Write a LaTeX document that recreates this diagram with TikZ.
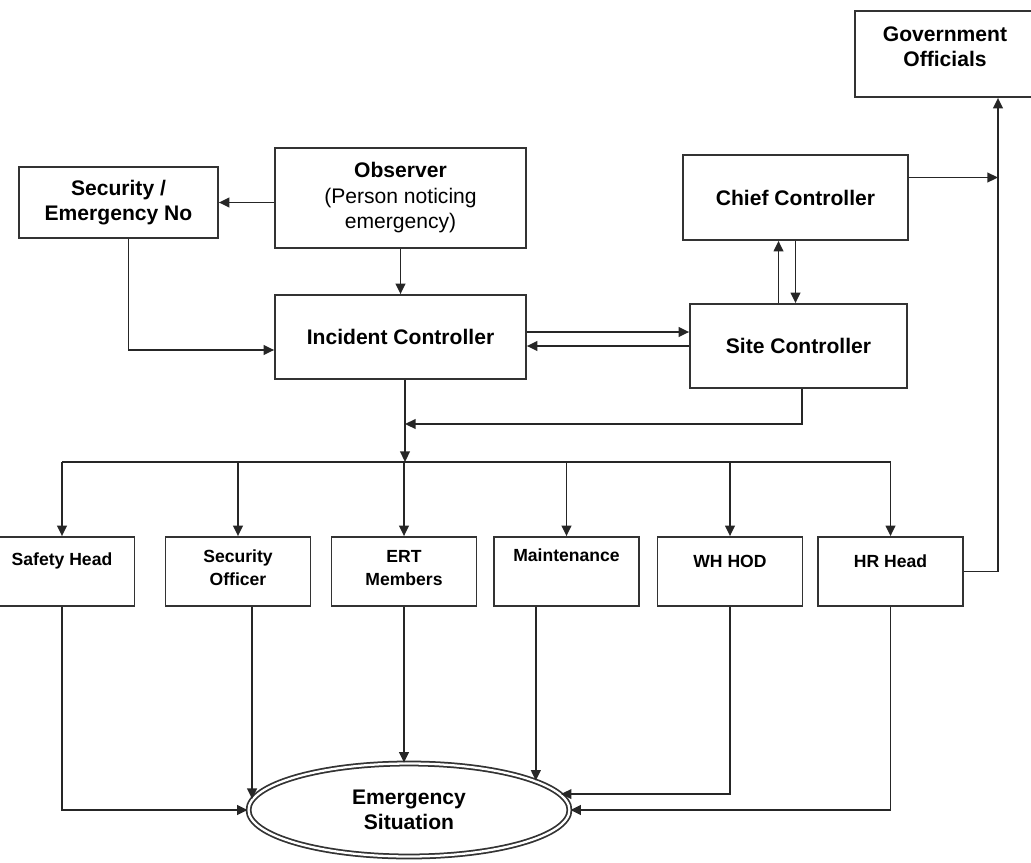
\documentclass[tikz,border=0pt]{standalone}
\usepackage{fontspec}
\setmainfont{Liberation Sans}
\usetikzlibrary{arrows.meta,shapes.geometric}

\tikzset{
  box/.style={draw=black!80, line width=1pt, fill=white, inner sep=2pt, align=center,
    font=\fontsize{12}{14.5}\selectfont\bfseries},
  member/.style={draw=black!80, line width=1pt, minimum width=2.9cm, minimum height=1.38cm},
  memtxt/.style={align=center, font=\fontsize{10}{13}\selectfont\bfseries},
  wire/.style={line width=1pt, black!85},
  arr/.style={wire, -{Triangle[length=6pt,width=5.5pt]}}
}

\begin{document}
\begin{tikzpicture}[x=0.02cm,y=-0.02cm]
  \useasboundingbox (0,0) rectangle (1031,862);

  % upper blocks
  \node[box, minimum width=3.98cm, minimum height=1.42cm] (sec) at (118.5,202.5) {Security /\\Emergency No};
  \node[box, minimum width=5.02cm, minimum height=2cm] (obs) at (400.5,198)
    {Observer\\\textmd{(Person noticing}\\\textmd{emergency)}};
  \node[box, minimum width=5.02cm, minimum height=1.68cm] (inc) at (400.5,337) {Incident Controller};
  \node[box, minimum width=4.5cm, minimum height=1.7cm] (chief) at (795.5,197.5) {Chief Controller};
  \node[box, minimum width=4.34cm, minimum height=1.68cm] (site) at (798.5,346) {Site Controller};
  \node[box, minimum width=3.6cm, minimum height=1.72cm] (gov) at (945,54) {};
  \node[box, draw=none, fill=none] (govtxt) at (945,47) {Government\\Officials};

  % team members
  \node[member] (safety) at (62,571.5) {};
  \node[member] (secoff) at (238,571.5) {};
  \node[member] (ert) at (404,571.5) {};
  \node[member] (maint) at (566.5,571.5) {};
  \node[member] (whhod) at (730,571.5) {};
  \node[member] (hr) at (890.5,571.5) {};
  \node[memtxt] (safetytxt) at (62,561) {Safety Head};
  \node[memtxt] (secofftxt) at (238,568) {Security\\Officer};
  \node[memtxt] (erttxt) at (404,568) {ERT\\Members};
  \node[memtxt] (mainttxt) at (566.5,555) {Maintenance};
  \node[memtxt] (whhodtxt) at (730,561) {WH HOD};
  \node[memtxt] (hrtxt) at (890.5,561) {HR Head};

  \node[draw=black!80, double, double distance=1.3pt, line width=1pt, ellipse, inner sep=0pt,
    minimum width=6.42cm, minimum height=1.86cm, align=center,
    font=\fontsize{12}{14.5}\selectfont\bfseries] (es) at (409,810) {Emergency\\Situation};

  \coordinate (bus) at (405,462);
  \coordinate (merge) at (405,424);
  \coordinate (govin) at ([xshift=1.06cm]gov.south);

  % reporting lines
  \draw[arr] (obs.west |- sec.east) -- (sec.east);
  \draw[arr] (obs) -- (inc);
  \draw[arr] ([xshift=0.2cm]sec.south) |- ([yshift=-0.26cm]inc.west);
  \draw[arr] ([yshift=0.1cm]inc.east) -- ([yshift=0.1cm]inc.east -| site.west);
  \draw[arr] (site.west) -- (site.west -| inc.east);
  \draw[arr] ([xshift=-0.4cm]site.north) -- ([xshift=-0.4cm]site.north |- chief.south);
  \draw[arr] (chief.south) -- (chief.south |- site.north);
  \draw[arr] ([yshift=0.4cm]chief.east) -- ([yshift=0.4cm]chief.east -| govin);
  \draw[arr] (hr.east) -| (govin);
  \draw[arr] ([xshift=0.07cm]site.south) |- (merge);
  \draw[arr] (inc.south -| bus) -- (bus);

  % distribution bus
  \draw[wire] (bus -| safety) -- (bus -| hr);
  \draw[arr] (bus -| safety) -- (safety.north);
  \draw[arr] (bus -| secoff) -- (secoff.north);
  \draw[arr] (bus -| ert) -- (ert.north);
  \draw[arr] (bus -| maint) -- (maint.north);
  \draw[arr] (bus -| whhod) -- (whhod.north);
  \draw[arr] (bus -| hr) -- (hr.north);

  % into the emergency situation
  \draw[arr] (safety.south) |- (es.west);
  \draw[arr] (es.176 |- secoff.south) -- (es.176);
  \draw[arr] (ert.south) -- (ert.south |- es.north);
  \draw[arr] (es.13 |- maint.south) -- (es.13);
  \draw[arr] (whhod.south) |- (es.6);
  \draw[arr] (hr.south) |- (es.east);
\end{tikzpicture}
\end{document}
